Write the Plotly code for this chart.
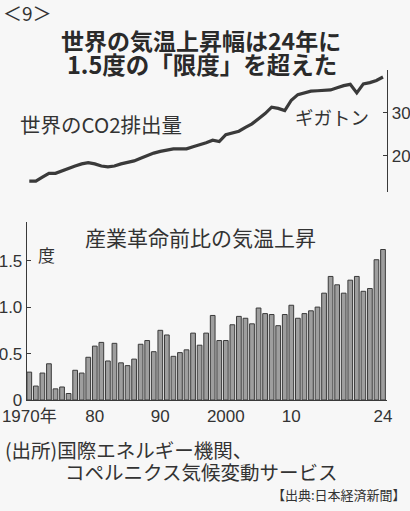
import plotly.graph_objects as go

years = list(range(1970, 2025))
temp_rise = [0.30, 0.15, 0.29, 0.39, 0.12, 0.14, 0.07, 0.32, 0.29, 0.46,
             0.58, 0.62, 0.42, 0.61, 0.40, 0.37, 0.44, 0.60, 0.64, 0.52,
             0.75, 0.70, 0.47, 0.51, 0.54, 0.72, 0.59, 0.72, 0.91, 0.64,
             0.64, 0.81, 0.90, 0.88, 0.82, 0.99, 0.93, 0.92, 0.80, 0.92,
             1.02, 0.88, 0.93, 0.96, 1.00, 1.15, 1.33, 1.24, 1.15, 1.29,
             1.33, 1.17, 1.20, 1.51, 1.62]
co2 = [14.1, 14.1, 15.0, 15.9, 15.9, 16.5, 17.1, 17.6, 18.1, 18.4,
       18.1, 17.6, 17.4, 17.6, 18.1, 18.5, 18.8, 19.4, 20.1, 20.6,
       21.0, 21.3, 21.6, 21.6, 21.6, 22.1, 22.5, 23.0, 23.6, 23.3,
       24.9, 25.3, 25.7, 26.6, 27.4, 28.6, 29.8, 31.3, 31.0, 30.5,
       32.9, 34.2, 34.6, 35.0, 35.1, 35.2, 35.3, 35.8, 36.3, 36.6,
       34.6, 36.7, 37.0, 37.5, 38.3]

x_tickvals = [1970, 1980, 1990, 2000, 2010, 2024]
x_ticktext = ["1970年", "80", "90", "2000", "10", "24"]
temp_tickvals = [0, 0.5, 1.0, 1.5]
temp_ticktext = ["0", "0.5", "1.0", "1.5"]
co2_tickvals = [20, 30]
co2_ticktext = ["20", "30"]

W, H = 410, 511
JP = "Noto Sans CJK JP"
NUM = "Liberation Sans, Noto Sans CJK JP"
INK = "#333333"
BG = "#f7f7f7"
AX = "#3a3a3a"


def px(x):
    return x / W


def py(y):
    return 1 - y / H


fig = go.Figure()
fig.add_trace(go.Bar(
    x=years, y=temp_rise, width=0.72,
    marker=dict(color="#9e9e9e", line=dict(color=AX, width=1)),
    xaxis="x", yaxis="y", showlegend=False))
fig.add_trace(go.Scatter(
    x=years, y=co2, mode="lines",
    line=dict(color=AX, width=3.2),
    xaxis="x2", yaxis="y2", showlegend=False))

xr = [1969.65, 2024.61]
fig.update_layout(
    template="none",
    width=W, height=H,
    margin=dict(l=0, r=0, t=0, b=0, autoexpand=False),
    paper_bgcolor=BG, plot_bgcolor=BG,
    bargap=0,
    xaxis=dict(domain=[px(27), px(387)], range=xr, showgrid=False, zeroline=False,
               automargin=False,
               showline=True, linecolor=AX, linewidth=1.3,
               tickvals=x_tickvals, ticktext=x_ticktext, ticks="",
               tickfont=dict(family=NUM, size=17, color=INK), anchor="y"),
    yaxis=dict(domain=[py(400), py(222)], range=[0, 1.916], showgrid=False, zeroline=False,
               automargin=False,
               showline=True, linecolor=AX, linewidth=1.3,
               tickvals=temp_tickvals, ticktext=temp_ticktext, ticks="inside", ticklen=4,
               tickcolor=AX,
               tickfont=dict(family=NUM, size=17, color=INK), anchor="x"),
    xaxis2=dict(domain=[px(27), px(387)], range=xr, visible=False, anchor="y2",
                automargin=False),
    yaxis2=dict(domain=[py(192), py(70)], range=[11.56, 39.93], side="right",
                anchor="x2", showgrid=False, zeroline=False, automargin=False,
                showline=True, linecolor=AX, linewidth=1.3,
                tickvals=co2_tickvals, ticktext=co2_ticktext, ticks="inside", ticklen=4,
                tickcolor=AX,
                tickfont=dict(family=NUM, size=17, color=INK)),
)

annos = [
    ("＜9＞", 2, 12, 19, "left", False),
    ("世界の気温上昇幅は24年に", 201, 40, 23, "center", True),
    ("1.5度の「限度」を超えた", 202, 64, 23.5, "center", True),
    ("世界のCO2排出量", 19, 124, 20.5, "left", False),
    ("ギガトン", 294, 117, 18.5, "left", False),
    ("産業革命前比の気温上昇", 84, 237, 21, "left", False),
    ("度", 37, 254, 17, "left", False),
    ("(出所)国際エネルギー機関、", 4, 449, 19.5, "left", False),
    ("コペルニクス気候変動サービス", 64, 471, 19.5, "left", False),
    ("【出典:日本経済新聞】", 407, 494, 13, "right", False),
]
for text, x, y, size, anchor, bold in annos:
    fig.add_annotation(
        text=text, x=px(x), y=py(y), xref="paper", yref="paper",
        xanchor=anchor, yanchor="middle", showarrow=False, borderpad=0,
        font=dict(family=JP, size=size, color="#2a2a2a" if bold else INK,
                  weight="bold" if bold else "normal"))

fig.write_html("out.html",
               config={"displayModeBar": False, "staticPlot": True},
               post_script="document.body.style.margin='0';"
                           "document.body.style.overflow='hidden';"
                           "document.body.style.background='" + BG + "';")
